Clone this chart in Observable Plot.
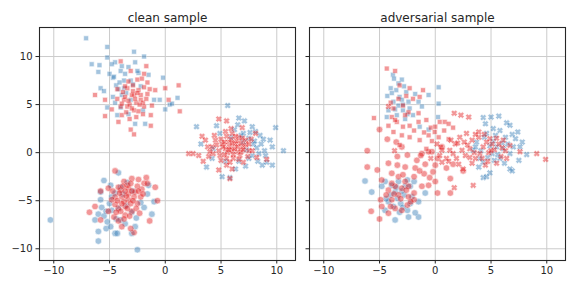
<!DOCTYPE html>
<html><head><meta charset="utf-8">
<script src="https://cdn.jsdelivr.net/npm/d3@7"></script>
<script src="https://cdn.jsdelivr.net/npm/@observablehq/plot@0.6"></script>
<style>body{margin:0;background:#fff}#c{position:relative;width:576px;height:288px}#c svg{position:absolute;top:0}</style>
</head><body><div id="c"></div>
<script>
const panelTitles = ["clean sample", "adversarial sample"];
const xTicks = [-10, -5, 0, 5, 10];
const yTicks = [-10, -5, 0, 5, 10];
const classColors = {blue: "#377eb8", red: "#e41a1c"};

// clean sample
const cleanSquareBlue = [[-7.1,11.9],[-5.2,11.0],[-2.8,10.5],[-6.6,9.2],[-5.9,9.1],[-5.2,9.9],[-1.9,10.0],[-2.7,9.4],[-3.3,8.9],[-4.5,9.4],[-4.0,8.5],[-4.7,7.8],[-5.0,8.2],[-5.8,6.7],[-5.5,6.4],[-5.2,4.7],[-4.3,3.9],[-3.7,6.7],[-3.7,7.5],[-2.4,8.3],[-1.5,8.1],[-0.2,7.8],[-0.5,5.5],[1.1,5.7],[0.4,5.0],[0.0,4.5],[-1.8,3.0],[-2.7,3.0],[-1.0,5.5],[-3.1,5.5],[-4.0,4.7],[-3.1,7.5],[-4.2,6.6],[-4.6,7.9],[-3.6,8.2],[-4.4,7.0],[-3.9,6.0],[-2.2,6.9],[-2.0,4.4],[-4.7,5.8],[-3.3,4.0],[-6.0,8.4],[-4.8,9.2],[-3.9,9.0],[-2.5,8.5],[0.6,5.1],[-3.5,6.2],[-4.1,7.3],[-2.9,7.1],[-4.5,5.2]];
const cleanSquareRed = [[-4.0,9.5],[-1.7,9.0],[-1.9,8.2],[-3.1,8.5],[-2.5,7.6],[-1.6,7.3],[-0.9,6.5],[0.0,6.7],[1.2,7.0],[1.3,4.3],[0.3,5.5],[-6.3,6.0],[-5.4,5.5],[-4.8,4.5],[-5.4,3.8],[-4.2,3.2],[-3.1,2.4],[-2.8,1.9],[-1.3,2.8],[-1.3,3.9],[-3.9,3.9],[-4.3,5.6],[-4.3,6.6],[-3.4,6.7],[-2.8,6.0],[-2.2,5.5],[-1.9,4.8],[-2.8,4.4],[-3.4,4.8],[-1.2,4.9],[-3.7,5.5],[-2.4,6.5],[-1.6,6.1],[-3.3,7.4],[-4.0,4.8],[-2.6,3.7],[-1.9,6.8],[-3.0,6.0],[-2.6,5.2],[-3.6,5.8],[-2.2,6.0],[-3.2,5.0],[-2.0,5.2],[-3.5,4.2],[-2.4,4.3],[-2.9,6.4],[-3.8,6.3],[-2.1,7.7],[-2.7,5.6],[-3.3,5.4],[-2.3,5.0],[-3.0,4.6],[-2.5,6.2],[-3.9,5.1],[-1.7,5.6],[-2.9,7.0],[-3.6,6.9],[-2.0,4.0],[-1.4,6.6],[-3.2,3.5]];
const cleanCircleBlue = [[-10.3,-7.0],[-6.0,-9.2],[-2.5,-10.1],[-6.0,-8.2],[-6.3,-7.0],[-6.0,-6.4],[-5.3,-7.9],[-4.5,-8.4],[-4.3,-8.4],[-2.7,-7.7],[-1.2,-6.4],[-1.0,-5.1],[-5.5,-2.9],[-4.2,-2.1],[-5.8,-4.1],[-5.8,-4.9],[-5.7,-5.7],[-5.2,-7.2],[-4.9,-7.7],[-5.5,-6.6],[-4.8,-6.0],[-4.0,-7.0],[-3.0,-8.4],[-1.6,-4.3],[-1.9,-5.7],[-4.0,-3.6],[-4.8,-4.6],[-1.5,-3.4],[-3.5,-5.5],[-4.2,-5.8],[-3.0,-6.2],[-4.5,-4.2],[-2.2,-5.2],[-3.4,-3.1],[-5.0,-5.3],[-4.4,-6.9],[-3.6,-7.4],[-2.6,-6.8],[-4.9,-3.4],[-3.8,-4.3],[-2.9,-4.0],[-5.3,-6.1]];
const cleanCircleRed = [[-4.5,-1.9],[-6.8,-6.2],[-6.3,-5.6],[-5.8,-7.0],[-5.8,-4.0],[-5.1,-3.7],[-3.7,-3.0],[-3.0,-2.7],[-2.4,-2.8],[-1.7,-2.6],[-1.9,-3.2],[-0.9,-3.6],[-0.7,-5.0],[-1.4,-7.1],[-2.8,-8.3],[-3.1,-7.9],[-3.9,-7.7],[-4.6,-6.7],[-5.1,-6.1],[-4.2,-5.8],[-3.6,-5.6],[-3.3,-4.9],[-3.9,-4.6],[-4.5,-4.6],[-4.0,-3.9],[-3.3,-3.7],[-2.7,-4.1],[-2.2,-4.6],[-2.5,-5.3],[-3.0,-6.1],[-3.6,-6.5],[-4.5,-5.4],[-3.7,-5.1],[-2.8,-4.6],[-3.3,-4.3],[-4.2,-3.6],[-4.8,-4.9],[-3.4,-3.4],[-2.1,-3.8],[-1.6,-3.2],[-4.2,-7.1],[-3.5,-4.5],[-3.9,-5.3],[-3.1,-5.3],[-4.1,-4.2],[-3.0,-4.0],[-2.5,-3.5],[-3.8,-3.5],[-4.3,-5.0],[-3.4,-5.8],[-2.9,-5.0],[-2.4,-4.0],[-3.6,-4.0],[-4.0,-6.1],[-3.2,-6.6],[-2.6,-5.8],[-4.7,-4.0],[-3.1,-3.2],[-2.0,-4.3],[-3.7,-6.9],[-4.4,-6.2],[-2.3,-6.3]];
const cleanXBlue = [[5.6,4.9],[2.8,2.7],[9.9,2.6],[10.6,0.2],[6.6,3.6],[3.2,0.9],[3.7,-1.5],[5.1,-2.5],[5.8,-2.6],[6.3,-1.7],[8.7,-1.3],[9.6,-1.3],[9.4,1.3],[9.6,0.6],[9.0,-0.3],[8.5,1.8],[8.1,2.2],[7.8,2.7],[7.1,3.3],[7.9,0.9],[8.4,-0.1],[9.1,-1.0],[4.6,2.8],[4.9,2.0],[4.2,-0.6],[4.3,0.4],[7.5,-0.6],[7.5,1.5],[8.0,1.2],[7.0,2.0],[8.2,0.5],[7.8,-0.3],[6.8,1.8],[7.3,0.3],[6.2,2.4],[5.4,-0.9],[8.6,0.9],[7.6,2.1],[8.9,0.2],[6.6,-0.9],[7.2,-1.4],[8.3,-0.9],[7.0,1.1],[6.5,2.9],[5.9,1.6],[8.8,1.4]];
const cleanXRed = [[2.1,-0.1],[2.5,-0.1],[3.0,-0.3],[3.4,-0.9],[3.3,1.7],[3.8,0.6],[4.8,3.5],[5.5,3.3],[5.8,-2.7],[6.0,-1.7],[4.8,-1.8],[5.5,-0.6],[6.5,0.1],[6.9,2.6],[8.1,2.0],[9.1,-0.7],[4.5,1.3],[5.1,0.9],[5.7,1.1],[6.3,0.9],[6.9,0.6],[7.5,0.2],[6.0,0.2],[5.4,0.4],[4.8,0.2],[4.2,0.6],[6.6,1.6],[6.0,2.0],[5.4,2.2],[7.2,1.3],[7.8,0.2],[6.7,-0.3],[6.1,-0.6],[4.9,-0.3],[4.3,-0.1],[5.5,-1.3],[7.0,-1.0],[8.2,-0.5],[3.6,1.3],[5.8,0.6],[6.2,0.4],[5.6,0.0],[6.4,1.2],[5.2,0.6],[6.8,0.1],[7.2,0.8],[5.0,1.4],[5.9,1.4],[6.5,0.6],[5.3,1.1],[6.1,-0.2],[7.0,0.3],[5.7,0.3],[4.6,0.8],[6.3,1.7],[5.0,-0.8],[6.8,1.0],[7.5,0.9],[5.8,-1.0],[4.4,1.8],[6.6,-0.7],[7.4,-0.4],[5.3,-0.2],[6.0,1.0],[4.0,0.1],[5.5,1.7],[6.9,1.5],[3.9,-0.4],[5.9,2.5],[7.7,1.4]];

// adversarial sample
const advSquareBlue = [[-3.8,8.1],[-3.7,7.7],[-3.0,7.6],[-4.3,5.9],[-4.0,6.7],[-3.5,6.5],[-2.6,6.3],[-1.8,6.1],[0.3,6.8],[0.3,5.1],[-0.6,6.0],[-3.2,5.8],[-2.4,5.3],[-1.5,5.3],[-3.3,4.9],[-3.75,5.3],[-2.9,4.4],[-2.3,4.6],[-1.2,4.8],[-4.35,3.7],[-3.45,3.9],[-2.7,3.5],[-2.0,3.9],[-1.4,2.7],[0.25,3.7],[-0.6,2.4],[-4.2,4.4],[-3.0,5.5],[-2.8,6.9],[-3.3,7.2],[-2.9,5.0],[-3.6,4.5],[-2.5,4.0],[-3.9,6.2]];
const advSquareRed = [[-4.35,8.75],[-3.6,8.5],[-5.5,3.6],[-3.2,7.0],[-2.3,6.7],[-1.1,6.5],[-1.4,5.8],[-2.0,5.6],[-2.9,4.9],[-3.75,4.6],[-3.9,3.7],[-3.45,3.2],[-2.9,2.7],[-2.3,2.8],[-1.5,3.2],[-0.8,3.4],[-0.4,2.6],[0.4,3.2],[0.85,3.2],[1.2,3.0],[-0.05,2.15],[-3.0,1.8],[-2.3,1.6],[-0.6,1.8],[0.3,1.6],[-1.4,1.3],[-3.2,0.8],[-2.4,4.2],[-1.5,4.1],[-4.2,2.8],[-3.75,2.15],[0.8,2.3],[-0.3,1.2],[1.2,1.4],[0.5,0.6],[-0.8,0.4],[1.6,2.6],[0.0,2.7],[-2.6,5.9],[-4.0,5.2],[-3.3,5.6],[-2.7,3.9],[-1.9,2.3],[-1.0,2.1],[-3.6,3.4]];
const advCircleBlue = [[-6.3,-2.95],[-5.7,-4.1],[-3.6,-7.0],[-1.5,-6.7],[-1.8,-6.25],[-2.25,-5.3],[-1.5,-5.1],[-0.9,-4.2],[-4.5,-3.0],[-3.9,-3.4],[-3.3,-3.0],[-2.5,-2.85],[-2.25,-3.5],[-2.8,-4.4],[-3.4,-4.75],[-4.0,-4.4],[-4.2,-5.1],[-3.75,-5.6],[-3.1,-5.3],[-2.5,-6.0],[-4.5,-6.0],[-3.6,-4.1],[-2.7,-3.5],[-1.9,-3.0],[-4.8,-3.5],[-2.4,-6.7],[-3.0,-4.0],[-3.5,-3.6],[-2.1,-4.6],[-4.4,-4.8],[-3.2,-6.2],[-2.9,-5.7]];
const advCircleRed = [[-6.1,0.2],[-6.1,-1.5],[-5.2,-1.8],[-4.2,-1.1],[-3.4,-1.3],[-2.7,-1.5],[-1.8,-1.6],[-0.9,-1.2],[0.0,-1.3],[-1.0,-2.2],[1.35,-2.7],[0.0,-3.0],[1.35,-4.2],[0.2,-4.2],[-0.6,-3.4],[-4.8,-2.85],[-3.9,-2.15],[-3.6,-3.5],[-3.0,-3.7],[-2.4,-3.5],[-2.7,-3.0],[-1.9,-2.5],[-4.2,-3.9],[-4.9,-4.9],[-4.8,-5.6],[-5.75,-6.1],[-5.0,-6.9],[-4.2,-6.3],[-3.6,-5.8],[-3.0,-6.0],[-2.5,-5.45],[-1.9,-4.9],[-1.9,-4.2],[-2.4,-4.6],[-3.3,-4.4],[-3.9,-4.9],[-4.0,-5.6],[-1.2,-3.5],[-3.9,-3.2],[-3.3,-2.5],[-1.65,-0.8],[-2.5,-0.25],[-3.4,-0.4],[-1.2,-0.1],[-0.3,0.1],[0.6,0.6],[-5.0,2.4],[-4.3,1.4],[-3.5,1.1],[-3.0,0.6],[-0.6,0.1],[0.2,-0.6],[-1.3,-0.3],[1.6,-1.2],[2.5,-1.9],[-0.2,-2.0],[1.0,-1.6],[-3.1,-4.8],[-2.6,-3.9],[-3.7,-4.3],[-2.2,-5.1],[-4.4,-4.4],[-2.9,-2.3],[-0.5,-2.6],[-1.4,-1.9]];
const advXBlue = [[4.3,3.65],[5.0,3.7],[5.7,3.8],[6.4,3.1],[6.7,2.85],[7.4,2.15],[7.2,1.45],[7.8,1.1],[7.6,0.6],[8.2,-0.2],[7.5,-0.8],[6.7,-1.7],[6.9,-1.9],[4.9,-2.1],[4.3,-2.6],[4.6,-2.5],[4.0,-0.6],[3.4,0.25],[3.7,1.1],[4.6,2.0],[5.2,2.5],[5.8,2.3],[6.3,1.6],[5.5,0.6],[5.1,-0.1],[5.8,-0.6],[6.7,-0.1],[7.0,0.6],[4.5,3.0],[3.6,0.6],[4.3,-1.0],[6.1,0.4],[5.2,1.2],[6.0,1.0],[4.9,0.7],[6.5,0.9],[5.6,-0.2],[4.7,-0.5],[4.4,1.6],[5.4,1.8],[6.9,1.9],[4.1,0.2],[5.3,-0.8],[6.2,-1.1],[3.9,-1.5]];
const advXRed = [[1.7,4.1],[2.3,3.9],[3.0,3.7],[9.1,-0.1],[9.9,-0.7],[3.4,-3.4],[1.7,-3.65],[6.1,1.3],[5.1,0.9],[4.3,0.6],[3.9,1.6],[3.3,1.3],[2.8,2.0],[2.2,1.6],[1.8,0.9],[1.3,0.25],[1.0,-0.6],[1.9,-0.6],[2.7,-0.3],[3.3,-1.1],[2.5,-1.7],[3.9,2.15],[4.9,1.45],[5.7,0.9],[6.7,0.75],[7.6,0.1],[6.4,-0.6],[5.5,-1.1],[4.5,-1.3],[4.0,-0.1],[3.6,-0.6],[3.1,0.4],[2.4,0.25],[1.6,-0.1],[0.6,-1.0],[0.6,0.25],[0.15,0.9],[-4.2,4.8],[-3.65,0.2],[0.4,-0.3],[1.2,-0.9],[-0.4,-0.6],[2.0,1.0],[2.9,0.8],[3.6,1.9],[4.6,1.1],[5.3,0.3],[6.0,0.5],[5.9,-0.4],[4.8,0.0],[4.2,-0.6],[4.4,1.9],[5.5,1.5],[3.1,-0.5],[2.1,-1.2],[1.4,1.3],[5.0,0.2],[3.5,0.0],[2.6,1.1],[4.7,-0.9],[6.3,0.2]];

function rows(arr, shape, color) { return arr.map(([x, y]) => ({x, y, shape, color})); }
const panelsData = [
  [...rows(cleanSquareBlue,"square","blue"), ...rows(cleanXBlue,"x","blue"), ...rows(cleanCircleBlue,"circle","blue"),
   ...rows(cleanSquareRed,"square","red"), ...rows(cleanXRed,"x","red"), ...rows(cleanCircleRed,"circle","red")],
  [...rows(advSquareBlue,"square","blue"), ...rows(advXBlue,"x","blue"), ...rows(advCircleBlue,"circle","blue"),
   ...rows(advSquareRed,"square","red"), ...rows(advXRed,"x","red"), ...rows(advCircleRed,"circle","red")]
];

const xSymbol = {
  draw(ctx, size) {
    const r = Math.sqrt(size / Math.PI), s = r * 1.2, t = r * 0.5;
    const pts = [[-t,-s],[t,-s],[t,-t],[s,-t],[s,t],[t,t],[t,s],[-t,s],[-t,t],[-s,t],[-s,-t],[-t,-t]]
      .map(([x, y]) => [(x - y) / Math.SQRT2, (x + y) / Math.SQRT2]);
    ctx.moveTo(pts[0][0], pts[0][1]);
    for (let i = 1; i < pts.length; i++) ctx.lineTo(pts[i][0], pts[i][1]);
    ctx.closePath();
  }
};
const symbols = {circle: ["circle", 3.3], square: ["square", 2.8], x: [xSymbol, 2.75]};

function panel(i) {
  const data = panelsData[i];
  const dots = Object.entries(symbols).map(([k, [sym, r]]) =>
    Plot.dot(data.filter(d => d.shape === k), {
      x: "x", y: "y", symbol: sym, r, fill: d => classColors[d.color],
      stroke: "white", strokeWidth: 0.6, opacity: 0.45
    }));
  const left = i === 0;
  return Plot.plot({
    width: left ? 300 : 276, height: 288,
    marginLeft: left ? 39 : 9, marginRight: left ? 5 : 11, marginTop: 27, marginBottom: 28,
    style: {fontFamily: "DejaVu Sans", fontSize: "10px", color: "#262626", background: "white"},
    x: {domain: [-11.28, 11.68]},
    y: {domain: [-11.22, 13.02]},
    marks: [
      Plot.gridX(xTicks, {stroke: "#cccccc", strokeOpacity: 1, strokeWidth: 1}),
      Plot.gridY(yTicks, {stroke: "#cccccc", strokeOpacity: 1, strokeWidth: 1}),
      ...dots,
      Plot.frame({stroke: "#262626", strokeWidth: 1.1}),
      Plot.axisX(xTicks, {tickSize: 3.5, tickPadding: 3, fontSize: 10, label: null}),
      left ? Plot.axisY(yTicks, {tickSize: 3.5, tickPadding: 3.5, fontSize: 10, label: null})
           : Plot.axisY(yTicks, {tickSize: 3.5, tickFormat: () => "", label: null}),
      Plot.text([panelTitles[i]], {text: d => d, frameAnchor: "top", dy: -6, lineAnchor: "bottom", fontSize: 12, fill: "#262626"})
    ]
  });
}
const c = document.getElementById("c");
const p0 = panel(0); p0.style.left = "0px"; c.appendChild(p0);
const p1 = panel(1); p1.style.left = "300px"; c.appendChild(p1);
</script></body></html>
